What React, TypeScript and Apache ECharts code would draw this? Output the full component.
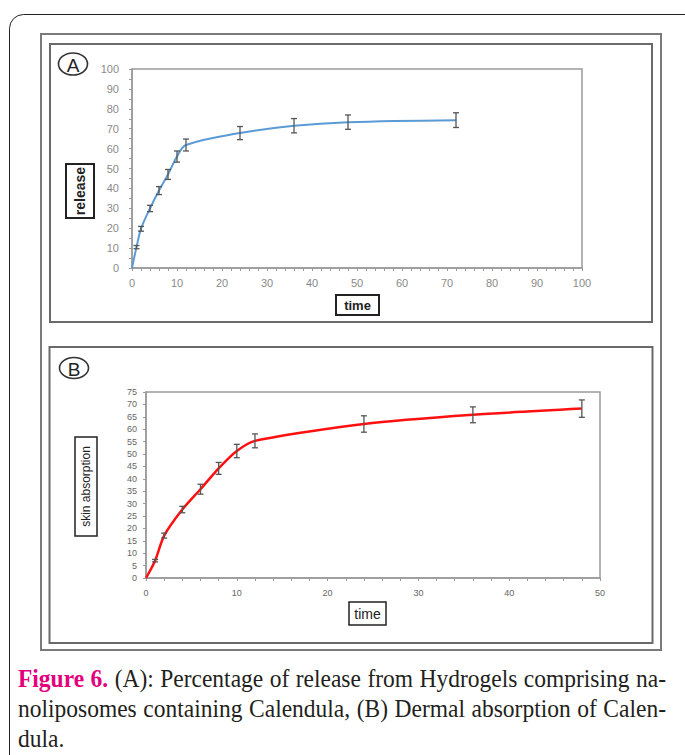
import React, { useEffect, useRef } from "react";
import * as echarts from "echarts";

// Panel A: release from hydrogels
const timeA = [0, 1, 2, 4, 6, 8, 10, 12, 24, 36, 48, 72];
const releaseA = [0, 10.5, 19.7, 29.9, 38.9, 47, 56, 61.8, 67.8, 71.5, 73.3, 74.3];
const errA = [0, 0.8, 1.2, 1.6, 2, 2.5, 2.8, 3, 3.3, 3.6, 3.6, 3.7];
const xTicksA = { min: 0, max: 100, interval: 10 };
const yTicksA = { min: 0, max: 100, interval: 10 };

// Panel B: skin absorption
const timeB = [0, 1, 2, 4, 6, 8, 10, 12, 24, 36, 48];
const absorptionB = [0, 7.0, 17.1, 27.6, 35.8, 44.2, 51.2, 55.3, 62.1, 65.8, 68.3];
const errB = [0, 0.5, 1, 1.3, 2, 2.4, 2.7, 2.8, 3.3, 3.2, 3.5];
const xTicksB = { min: 0, max: 50, interval: 10 };
const yTicksB = { min: 0, max: 75, interval: 5 };

const captionHead = "Figure 6.";
const captionLines = [
  "Figure 6. (A): Percentage of release from Hydrogels comprising na-",
  "noliposomes containing Calendula, (B) Dermal absorption of Calen-",
  "dula.",
];

function errorBarRender(params: any, api: any) {
  const x = api.value(0);
  const y = api.value(1);
  const e = api.value(2);
  if (!e) return { type: "group", children: [] };
  const top = api.coord([x, y + e]);
  const bot = api.coord([x, y - e]);
  const w = 3;
  const style = { stroke: "#555", lineWidth: 1.3 };
  return {
    type: "group",
    children: [
      { type: "line", shape: { x1: top[0], y1: top[1], x2: bot[0], y2: bot[1] }, style },
      { type: "line", shape: { x1: top[0] - w, y1: top[1], x2: top[0] + w, y2: top[1] }, style },
      { type: "line", shape: { x1: bot[0] - w, y1: bot[1], x2: bot[0] + w, y2: bot[1] }, style },
    ],
  };
}

function buildCaption(): any[] {
  const canvas = document.createElement("canvas");
  const ctx = canvas.getContext("2d")!;
  const fs = 25;
  const sx = 0.94;
  const fam = '"Liberation Serif"';
  const headWords = captionHead.split(" ");
  const measure = (t: string, bold: boolean) => {
    ctx.font = `${bold ? "bold " : ""}${fs}px ${fam}`;
    return ctx.measureText(t).width * sx;
  };
  const left = 18;
  const right = 666;
  const out: any[] = [];
  captionLines.forEach((line, li) => {
    const words = line.split(" ");
    const bolds = words.map((w, wi) => li === 0 && wi < headWords.length);
    const widths = words.map((w, wi) => measure(w, bolds[wi]));
    const total = widths.reduce((a, b) => a + b, 0);
    const justify = li < captionLines.length - 1;
    const gap = justify ? (right - left - total) / (words.length - 1) : measure(" ", false);
    let x = left;
    const y = 678 + li * 30;
    words.forEach((w, wi) => {
      out.push({
        type: "text", x, y, scaleX: sx,
        style: {
          text: w, fontSize: fs, fontFamily: "Liberation Serif",
          fontWeight: bolds[wi] ? "bold" : "normal",
          fill: bolds[wi] ? "#e4007c" : "#231f20",
          align: "left", verticalAlign: "middle",
        },
      });
      x += widths[wi] + gap;
    });
  });
  return out;
}

export default function App() {
  const ref = useRef<HTMLDivElement>(null);
  useEffect(() => {
    if (!ref.current) return;
    const chart = echarts.init(ref.current, null, { renderer: "svg" });
    const gray = "#9a9a9a";
    const axisCommon = {
      axisLine: { show: true, lineStyle: { color: gray, width: 1.5 } },
      axisTick: { show: true, length: 3, lineStyle: { color: gray } },
      splitLine: { show: false },
    };
    const option: any = {
      animation: false,
      backgroundColor: "#fff",
      grid: [
        { left: 132, top: 69, width: 450, height: 199, show: true, borderColor: gray, borderWidth: 1.5, backgroundColor: "transparent" },
        { left: 146, top: 392, width: 454, height: 186, show: true, borderColor: gray, borderWidth: 1.5, backgroundColor: "transparent" },
      ],
      xAxis: [
        {
          type: "value", gridIndex: 0, ...xTicksA, ...axisCommon,
          minorTick: { show: true, splitNumber: 5, length: 3, lineStyle: { color: gray } },
          axisLabel: { color: "#8a8a8a", fontSize: 11, fontFamily: "Liberation Sans", margin: 9 },
        },
        {
          type: "value", gridIndex: 1, ...xTicksB, ...axisCommon,
          minorTick: { show: true, splitNumber: 5, length: 3, lineStyle: { color: gray } },
          axisLabel: { color: "#666", fontSize: 9, fontFamily: "Liberation Sans", margin: 10 },
        },
      ],
      yAxis: [
        {
          type: "value", gridIndex: 0, ...yTicksA, ...axisCommon,
          minorTick: { show: true, splitNumber: 2, length: 3, lineStyle: { color: gray } },
          axisLabel: { color: "#8a8a8a", fontSize: 11, fontFamily: "Liberation Sans", margin: 13 },
        },
        {
          type: "value", gridIndex: 1, ...yTicksB, ...axisCommon,
          axisLabel: { color: "#666", fontSize: 9, fontFamily: "Liberation Sans", margin: 9 },
        },
      ],
      series: [
        {
          type: "line", xAxisIndex: 0, yAxisIndex: 0, smooth: 0.35, showSymbol: false,
          lineStyle: { color: "#5b9bd5", width: 2 },
          data: timeA.map((t, i) => [t, releaseA[i]]),
          z: 3,
        },
        {
          type: "custom", xAxisIndex: 0, yAxisIndex: 0, renderItem: errorBarRender,
          data: timeA.map((t, i) => [t, releaseA[i], errA[i]]), z: 4,
        },
        {
          type: "line", xAxisIndex: 1, yAxisIndex: 1, smooth: 0.25, showSymbol: false,
          lineStyle: { color: "#ff1010", width: 2.5 },
          data: timeB.map((t, i) => [t, absorptionB[i]]),
          z: 3,
        },
        {
          type: "custom", xAxisIndex: 1, yAxisIndex: 1, renderItem: errorBarRender,
          data: timeB.map((t, i) => [t, absorptionB[i], errB[i]]), z: 4,
        },
      ],
      graphic: [
        { type: "rect", shape: { x: 9.5, y: 14.5, width: 690, height: 800, r: 14 }, style: { fill: "none", stroke: "#222", lineWidth: 1 }, z: 0 },
        { type: "rect", shape: { x: 41, y: 34, width: 620, height: 616 }, style: { fill: "none", stroke: "#7a7a7a", lineWidth: 2 } },
        { type: "rect", shape: { x: 50, y: 44, width: 602, height: 278 }, style: { fill: "none", stroke: "#6a6a6a", lineWidth: 2 } },
        { type: "rect", shape: { x: 49.5, y: 347, width: 603, height: 296 }, style: { fill: "none", stroke: "#6a6a6a", lineWidth: 2 } },
        // circled letters
        { type: "ellipse", shape: { cx: 73, cy: 64, rx: 14.5, ry: 11 }, style: { fill: "none", stroke: "#333", lineWidth: 1.6 } },
        { type: "text", x: 73, y: 65, style: { text: "A", fontSize: 19, fontFamily: "Liberation Sans", fill: "#222", align: "center", verticalAlign: "middle" } },
        { type: "ellipse", shape: { cx: 74, cy: 368, rx: 14.5, ry: 10.5 }, style: { fill: "none", stroke: "#333", lineWidth: 1.6 } },
        { type: "text", x: 74, y: 369, style: { text: "B", fontSize: 19, fontFamily: "Liberation Sans", fill: "#222", align: "center", verticalAlign: "middle" } },
        // axis title boxes A
        { type: "rect", shape: { x: 66, y: 164, width: 28, height: 54 }, style: { fill: "#fff", stroke: "#222", lineWidth: 2 } },
        { type: "text", x: 80, y: 191, rotation: Math.PI / 2, style: { text: "release", fontSize: 14, fontWeight: "bold", fontFamily: "Liberation Sans", fill: "#222", align: "center", verticalAlign: "middle" } },
        { type: "rect", shape: { x: 336, y: 295, width: 43, height: 20 }, style: { fill: "#fff", stroke: "#222", lineWidth: 2 } },
        { type: "text", x: 357.5, y: 305, style: { text: "time", fontSize: 13, fontWeight: "bold", fontFamily: "Liberation Sans", fill: "#222", align: "center", verticalAlign: "middle" } },
        // axis title boxes B
        { type: "rect", shape: { x: 75, y: 437, width: 22, height: 99 }, style: { fill: "#fff", stroke: "#222", lineWidth: 1.5 } },
        { type: "text", x: 86, y: 486.5, rotation: Math.PI / 2, style: { text: "skin absorption", fontSize: 12, fontFamily: "Liberation Sans", fill: "#222", align: "center", verticalAlign: "middle" } },
        { type: "rect", shape: { x: 349, y: 602, width: 37, height: 23 }, style: { fill: "#fff", stroke: "#222", lineWidth: 1.5 } },
        { type: "text", x: 367.5, y: 613.5, style: { text: "time", fontSize: 14, fontFamily: "Liberation Sans", fill: "#222", align: "center", verticalAlign: "middle" } },
        // caption
        ...buildCaption(),
      ],
    };
    chart.setOption(option);
    return () => chart.dispose();
  }, []);
  return <div ref={ref} style={{ position: "absolute", left: 0, top: 0, width: 685, height: 755 }} />;
}
